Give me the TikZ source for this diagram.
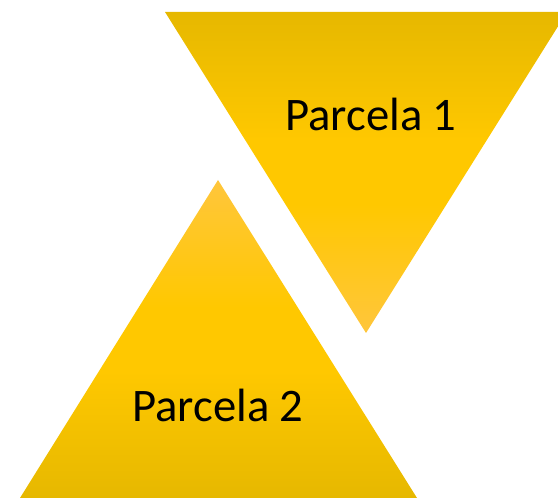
\documentclass[tikz,border=0pt]{standalone}
\usepackage{fontspec}
\setmainfont{Carlito}
\definecolor{goldtop}{RGB}{230,184,0}
\definecolor{goldmid}{RGB}{255,200,0}
\definecolor{goldtip}{RGB}{255,198,60}
\pgfdeclareverticalshading{goldfade}{100bp}{
  color(0bp)=(goldtip); color(25bp)=(goldtip); color(45bp)=(goldmid);
  color(55bp)=(goldmid); color(75bp)=(goldtop); color(100bp)=(goldtop)}

\begin{document}
\begin{tikzpicture} [x = .75pt, y = -.75pt,
  label/.style = {font = \fontsize{35}{40}\selectfont, inner sep = 0pt}]
\useasboundingbox (0,0) rectangle (558,498);
\coordinate (a1) at (165,12);
\coordinate (a2) at (567,12);
\coordinate (a3) at (366,333);
\coordinate (b1) at (218,180);
\coordinate (b2) at (417,498);
\coordinate (b3) at (20,498);
\begin{scope}
\clip (0,0) rectangle (558,498);
\shade [shading = goldfade] (a1) -- (a2) -- (a3) -- cycle;
\end{scope}
\shade [shading = goldfade, shading angle = 180] (b1) -- (b2) -- (b3) -- cycle;
\node[label] (p1) at (371,114) {Parcela 1};
\node[label] (p2) at (218,405) {Parcela 2};
\end{tikzpicture}
\end{document}
